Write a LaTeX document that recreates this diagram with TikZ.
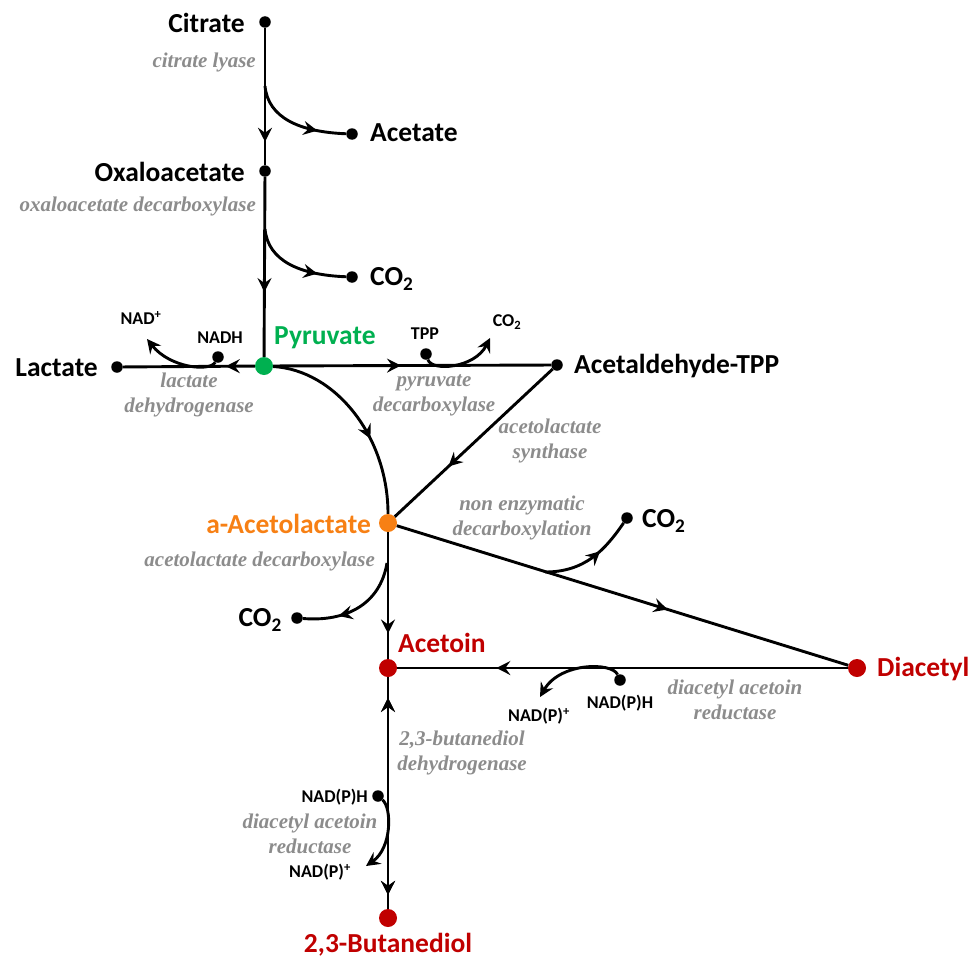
\documentclass[tikz,border=0pt]{standalone}
\usepackage{fontspec}
\setmainfont{Carlito}
\newfontfamily\grayfont{Liberation Serif}
\usetikzlibrary{arrows.meta,decorations.markings}
\definecolor{pyrc}{RGB}{0,176,80}
\definecolor{aclc}{RGB}{247,128,20}
\definecolor{dred}{RGB}{192,0,0}
\definecolor{enz}{RGB}{140,140,140}
\begin{document}
\begin{tikzpicture}[x=1pt,y=-1pt,
  link/.style={line width=2.9pt,black},
  arrowat/.style={postaction={decorate},decoration={markings,mark=at position #1 with {\arrow{Stealth[length=14pt,width=14pt,inset=5pt]}}}},
  revarrowat/.style={postaction={decorate},decoration={markings,mark=at position #1 with {\arrow{Stealth[length=14pt,width=14pt,inset=5pt,reversed]}}}},
  tipend/.style={-{Stealth[length=14pt,width=14pt,inset=5pt]}},
  dotn/.style={circle,fill=black,inner sep=0pt,minimum size=11.5pt},
  bigdot/.style={circle,inner sep=0pt,minimum size=18pt},
  met/.style={font=\bfseries\fontsize{27.5}{32}\selectfont,inner sep=0pt},
  small/.style={font=\bfseries\fontsize{18}{21}\selectfont,inner sep=0pt},
  enzyme/.style={font=\grayfont\bfseries\itshape\fontsize{21}{25}\selectfont,text=enz,align=center,inner sep=0pt}
]
\useasboundingbox (0,0) rectangle (974,958);

% dots
\node[dotn] (cit) at (265,22) {};
\node[dotn] (oxa) at (265,171) {};
\node[bigdot,fill=pyrc] (pyr) at (264,366) {};
\node[dotn] (lac) at (117,367) {};
\node[dotn] (ald) at (557,365) {};
\node[bigdot,fill=aclc] (acl) at (388,523) {};
\node[bigdot,fill=dred] (acn) at (388,668) {};
\node[bigdot,fill=dred] (dia) at (857,668) {};
\node[bigdot,fill=dred] (but) at (388,918) {};
\node[dotn] (acedot) at (352,134) {};
\node[dotn] (co2a) at (352,277) {};
\node[dotn] (nadh) at (218,357) {};
\node[dotn] (tpp) at (426,354) {};
\node[dotn] (co2b) at (627,518) {};
\node[dotn] (co2c) at (297,618) {};
\node[dotn] (npha) at (620,680) {};
\node[dotn] (nphb) at (378,796) {};

\coordinate (b1) at (265,86);
\coordinate (b2) at (265,229);
\coordinate (nadp) at (147,339);
\coordinate (co2tip) at (490,338);
\coordinate (b3) at (545,572);
\coordinate (b4) at (387,563);
\coordinate (npa) at (540,697);
\coordinate (npb) at (366,866);

% main connectors
\draw[link,arrowat=0.83] (cit) -- (oxa);
\draw[link,arrowat=0.64] (oxa) -- (pyr);
\draw[link,arrowat=0.22] (pyr) -- (lac);
\draw[link,arrowat=0.46] (pyr) -- (ald);
\draw[link,arrowat=0.66] (ald) -- (acl);
\draw[link,arrowat=0.62] (pyr) .. controls (335,370) and (388,436) .. (acl);
\draw[link,arrowat=0.6] (acl) -- (dia);
\draw[link,arrowat=0.8] (acl) -- (acn);
\draw[link,arrowat=0.78] (dia) -- (acn);
\draw[link,revarrowat=0.15,arrowat=0.94] (acn) -- (but);

% side branches
\draw[link,arrowat=0.72] (b1) .. controls (268,118) and (300,132) .. (acedot);
\draw[link,arrowat=0.72] (b2) .. controls (268,261) and (300,275) .. (co2a);
\draw[link,tipend] (nadh) .. controls (210,372) and (170,368) .. (nadp);
\draw[link,tipend] (tpp) .. controls (432,372) and (475,368) .. (co2tip);
\draw[link,arrowat=0.62] (b3) .. controls (585,572) and (605,550) .. (co2b);
\draw[link,arrowat=0.68] (b4) .. controls (380,605) and (345,622) .. (co2c);
\draw[link,tipend] (npha) .. controls (612,662) and (560,662) .. (npa);
\draw[link,tipend] (nphb) .. controls (392,808) and (392,848) .. (npb);

% metabolite labels
\node[met,anchor=east] (tcit) at (245,23) {Citrate};
\node[met,anchor=west] (tace) at (370,133) {Acetate};
\node[met,anchor=east] (toxa) at (245,172) {Oxaloacetate};
\node[met,anchor=west] (tco2a) at (370,279) {CO\textsubscript{2}};
\node[met,anchor=west,text=pyrc] (tpyr) at (274,338) {Pyruvate};
\node[met,anchor=east] (tlac) at (98,368) {Lactate};
\node[met,anchor=west] (tald) at (574,366) {Acetaldehyde-TPP};
\node[met,anchor=east,text=aclc] (tacl) at (371,524) {a-Acetolactate};
\node[met,anchor=west] (tco2b) at (642,521) {CO\textsubscript{2}};
\node[met,anchor=east] (tco2c) at (282,620) {CO\textsubscript{2}};
\node[met,anchor=west,text=dred] (tacn) at (398,643) {Acetoin};
\node[met,anchor=west,text=dred] (tdia) at (877,669) {Diacetyl};
\node[met,text=dred] (tbut) at (388,945) {2,3-Butanediol};

% small cofactor labels
\node[small] (tnadp) at (141,318) {NAD\textsuperscript{+}};
\node[small] (tnadh) at (220,338) {NADH};
\node[small] (ttpp) at (425,334) {TPP};
\node[small] (tco2s) at (507,322) {CO\textsubscript{2}};
\node[small] (tnph1) at (620,703) {NAD(P)H};
\node[small] (tnpp1) at (539,716) {NAD(P)\textsuperscript{+}};
\node[small,anchor=east] (tnph2) at (368,797) {NAD(P)H};
\node[small] (tnpp2) at (320,872) {NAD(P)\textsuperscript{+}};

% enzyme labels
\node[enzyme,anchor=east] (e1) at (256,62) {citrate lyase};
\node[enzyme,anchor=east] (e2) at (256,206) {oxaloacetate decarboxylase};
\node[enzyme] (e3) at (189,395) {lactate\\dehydrogenase};
\node[enzyme] (e4) at (434,395) {pyruvate\\decarboxylase};
\node[enzyme] (e5) at (550,441) {acetolactate\\synthase};
\node[enzyme] (e6) at (522,518) {non enzymatic\\decarboxylation};
\node[enzyme,anchor=east] (e7) at (375,561) {acetolactate decarboxylase};
\node[enzyme] (e8) at (735,700) {diacetyl acetoin\\reductase};
\node[enzyme] (e9) at (462,753) {2,3-butanediol\\dehydrogenase};
\node[enzyme] (e10) at (310,834) {diacetyl acetoin\\reductase};
\end{tikzpicture}
\end{document}
